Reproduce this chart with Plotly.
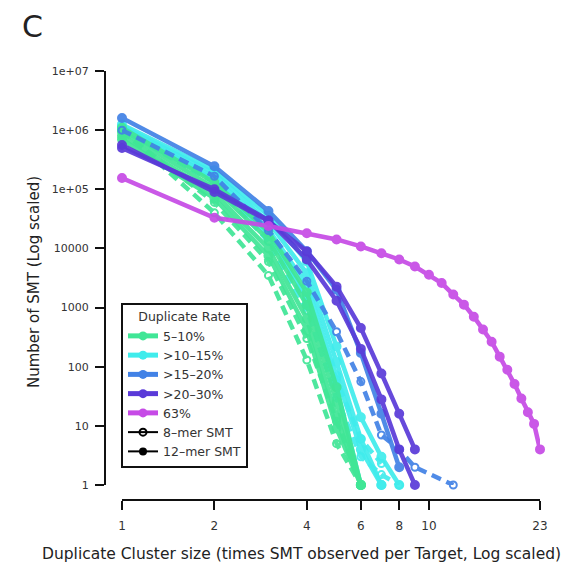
import math
import plotly.graph_objects as go

# ---------------- data ----------------
x_tick_vals = [1, 2, 4, 6, 8, 10, 23]
x_tick_text = ["1", "2", "4", "6", "8", "10", "23"]
y_tick_vals = [1, 10, 100, 1000, 10000, 1e5, 1e6, 1e7]
y_tick_text = ["1", "10", "100", "1000", "10000", "1e+05", "1e+06", "1e+07"]

group_names = ["5\u201310%", ">10\u201315%", ">15\u201320%", ">20\u201330%", "63%"]
group_colors = ["#40E696", "#40ECEC", "#4282E6", "#5A3AD8", "#C64AE6"]

# 5-10% (green)
green_12_a_x = [1, 2, 3, 4, 5, 6]
green_12_a_y = [1.1e6, 1.3e5, 1.9e4, 1.8e3, 45, 1]
green_12_b_x = [1, 2, 3, 4, 5, 6]
green_12_b_y = [9.5e5, 1.05e5, 1.4e4, 1.1e3, 25, 1]
green_12_c_x = [1, 2, 3, 4, 5, 6]
green_12_c_y = [8.0e5, 8.5e4, 1.0e4, 650, 14, 1]
green_12_d_x = [1, 2, 3, 4, 5, 6]
green_12_d_y = [7.0e5, 7.0e4, 7.5e3, 420, 9, 1]
green_8_a_x = [1, 2, 3, 4, 5, 6]
green_8_a_y = [9.5e5, 6.0e4, 6.0e3, 300, 12, 1]
green_8_b_x = [1, 2, 3, 4, 5, 6]
green_8_b_y = [1.0e6, 4.0e4, 3.5e3, 130, 5, 1]

# >10-15% (cyan)
cyan_12_a_x = [1, 2, 3, 4, 5, 6, 7, 8]
cyan_12_a_y = [1.25e6, 2.1e5, 3.6e4, 6.0e3, 220, 14, 3, 1]
cyan_12_b_x = [1, 2, 3, 4, 5, 6, 7]
cyan_12_b_y = [1.15e6, 1.85e5, 2.8e4, 3.8e3, 120, 6, 1]
cyan_12_c_x = [1, 2, 3, 4, 5, 6, 7]
cyan_12_c_y = [1.05e6, 1.6e5, 2.1e4, 2.4e3, 70, 4, 1]
cyan_12_d_x = [1, 2, 3, 4, 5, 6]
cyan_12_d_y = [1.0e6, 1.45e5, 1.7e4, 1.5e3, 45, 1]
cyan_8_a_x = [1, 2, 3, 4, 5, 6, 7]
cyan_8_a_y = [1.1e6, 1.5e5, 1.6e4, 1.2e3, 60, 6, 2.3]
cyan_8_b_x = [1, 2, 3, 4, 5, 6, 7, 8]
cyan_8_b_y = [1.0e6, 1.3e5, 1.3e4, 900, 30, 3, 1.5, 1]

# >15-20% (blue)
blue_12_a_x = [1, 2, 3, 4, 5, 6, 7, 8]
blue_12_a_y = [1.6e6, 2.45e5, 4.3e4, 9.0e3, 2.0e3, 170, 16, 2]
blue_8_a_x = [1, 2, 3, 4, 5, 6, 7, 8, 9, 12]
blue_8_a_y = [1.0e6, 1.66e5, 2.0e4, 2.8e3, 390, 56, 7, 4, 2, 1]

# >20-30% (purple)
purple_12_a_x = [1, 2, 3, 4, 5, 6, 7, 8, 9]
purple_12_a_y = [5.6e5, 9.0e4, 2.9e4, 8.9e3, 2.26e3, 450, 77, 16, 4]
purple_12_b_x = [1, 2, 3, 4, 5, 6, 7, 8, 9]
purple_12_b_y = [5.0e5, 1.0e5, 3.0e4, 6.5e3, 1.3e3, 200, 28, 4, 1]

# 63% (magenta)
magenta_12_x = list(range(1, 24))
magenta_12_y = [1.55e5, 3.3e4, 2.4e4, 1.8e4, 1.42e4, 1.08e4, 8300, 6500, 4950,
                3600, 2600, 1660, 1120, 700, 425, 265, 148, 89, 51, 29, 17,
                10.8, 4]

series = [
    # (group index, kind, x, y)
    (1, "8", cyan_8_a_x, cyan_8_a_y),
    (1, "8", cyan_8_b_x, cyan_8_b_y),
    (1, "12", cyan_12_a_x, cyan_12_a_y),
    (1, "12", cyan_12_b_x, cyan_12_b_y),
    (1, "12", cyan_12_c_x, cyan_12_c_y),
    (1, "12", cyan_12_d_x, cyan_12_d_y),
    (0, "8", green_8_a_x, green_8_a_y),
    (0, "8", green_8_b_x, green_8_b_y),
    (0, "12", green_12_a_x, green_12_a_y),
    (0, "12", green_12_b_x, green_12_b_y),
    (0, "12", green_12_c_x, green_12_c_y),
    (0, "12", green_12_d_x, green_12_d_y),
    (2, "8", blue_8_a_x, blue_8_a_y),
    (2, "12", blue_12_a_x, blue_12_a_y),
    (3, "12", purple_12_b_x, purple_12_b_y),
    (3, "12", purple_12_a_x, purple_12_a_y),
    (4, "12", magenta_12_x, magenta_12_y),
]

# ---------------- figure ----------------
# the page body has an 8px default margin, so the figure is drawn 8px in
PAGE_OFF = 8
W, H = 574 - PAGE_OFF, 568 - PAGE_OFF


def px_x(p):
    return (p - PAGE_OFF) / W


def px_y(p):
    return 1 - (p - PAGE_OFF) / H


fig = go.Figure()

for gi, kind, xs, ys in series:
    col = group_colors[gi]
    fig.add_trace(go.Scatter(
        x=xs, y=ys, mode="lines+markers",
        line=dict(color=col, width=4.5, dash="10px,6px" if kind == "8" else "solid"),
        marker=dict(symbol="circle-open" if kind == "8" else "circle",
                    size=7 if kind == "8" else 8, color=col,
                    line=dict(width=2, color=col)),
        opacity=0.92, cliponaxis=False, showlegend=False, hoverinfo="skip",
    ))

# legend entries
for name, col in zip(group_names, group_colors):
    fig.add_trace(go.Scatter(
        x=[None], y=[None], mode="lines+markers", name=name,
        line=dict(color=col, width=5),
        marker=dict(symbol="circle", size=9, color=col),
    ))
fig.add_trace(go.Scatter(
    x=[None], y=[None], mode="lines+markers", name="8\u2013mer SMT",
    line=dict(color="black", width=2),
    marker=dict(symbol="circle-open", size=7, color="black", line=dict(width=2)),
))
fig.add_trace(go.Scatter(
    x=[None], y=[None], mode="lines+markers", name="12\u2013mer SMT",
    line=dict(color="black", width=2),
    marker=dict(symbol="circle", size=8, color="black"),
))

font_family = "DejaVu Sans, Liberation Sans, sans-serif"

fig.update_layout(
    width=W, height=H,
    margin=dict(l=0, r=0, t=0, b=0, autoexpand=False),
    paper_bgcolor="white", plot_bgcolor="white",
    font=dict(family=font_family, color="#222", size=12),
    xaxis=dict(
        type="log", range=[math.log10(min(x_tick_vals)), math.log10(max(x_tick_vals))],
        domain=[px_x(122), px_x(540)], anchor="free", position=px_y(500),
        tickvals=x_tick_vals, ticktext=x_tick_text,
        showline=True, linecolor="#111", linewidth=2,
        ticks="outside", ticklen=9, tickwidth=2, tickcolor="#111",
        ticklabelstandoff=6,
        showgrid=False, zeroline=False, tickfont=dict(size=12, color="#333"),
    ),
    yaxis=dict(
        type="log", range=[math.log10(min(y_tick_vals)), math.log10(max(y_tick_vals))],
        domain=[px_y(485), px_y(71)], anchor="free", position=px_x(105),
        tickvals=y_tick_vals, ticktext=y_tick_text,
        showline=True, linecolor="#111", linewidth=2,
        ticks="outside", ticklen=9, tickwidth=2, tickcolor="#111",
        ticklabelstandoff=4,
        showgrid=False, zeroline=False, tickfont=dict(size=11, color="#333"),
    ),
    legend=dict(
        x=px_x(121), y=px_y(303), xanchor="left", yanchor="top",
        bordercolor="#111", borderwidth=2, bgcolor="white",
        font=dict(size=12.5, color="#333"),
        title=dict(text="Duplicate Rate", side="top center", font=dict(size=12.5, color="#333")),
        itemwidth=30, tracegroupgap=0,
    ),
    annotations=[
        dict(text="C", xref="paper", yref="paper", x=px_x(32), y=px_y(27),
             xanchor="center", yanchor="middle", showarrow=False,
             font=dict(size=30, color="#222")),
        dict(text="Number of SMT (Log scaled)", xref="paper", yref="paper",
             x=px_x(34), y=px_y(282), textangle=-90, showarrow=False,
             xanchor="center", yanchor="middle", font=dict(size=15, color="#222")),
        dict(text="Duplicate Cluster size (times SMT observed per Target, Log scaled)",
             xref="paper", yref="paper", x=px_x(40), y=px_y(554), showarrow=False,
             xanchor="left", yanchor="middle", font=dict(size=15.5, color="#222")),
    ],
)

fig.write_html("out.html")
